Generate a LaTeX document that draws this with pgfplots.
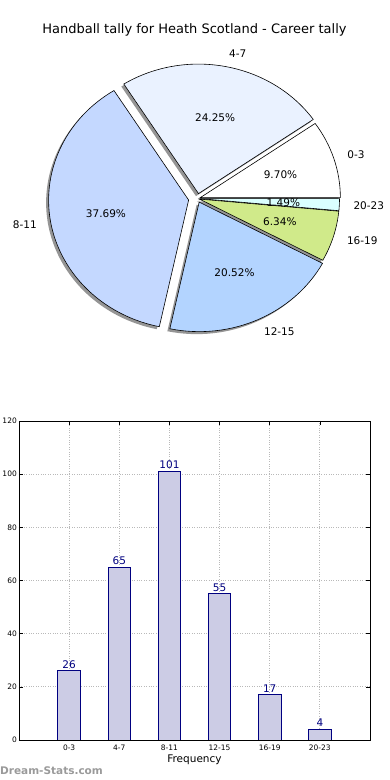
\documentclass[border=0pt]{standalone}
\usepackage{fontspec}
\setmainfont{DejaVu Sans}
\usepackage{pgfplots}
\usepackage{pgfplotstable}
\pgfplotsset{compat=1.18}
\definecolor{c0}{HTML}{FFFFFF}
\definecolor{c1}{HTML}{EAF2FF}
\definecolor{c2}{HTML}{C4D8FF}
\definecolor{c3}{HTML}{B3D4FF}
\definecolor{c4}{HTML}{D0EA8A}
\definecolor{c5}{HTML}{DAFFFF}
\definecolor{shadowc}{HTML}{959595}
\definecolor{barfill}{HTML}{CCCCE5}
\definecolor{navy}{HTML}{000080}
\definecolor{wmark}{HTML}{9A9A9A}

\pgfplotstableread{
label value explode color
0-3 26 3 c0
4-7 65 5 c1
8-11 101 9 c2
12-15 55 4 c3
16-19 17 2 c4
20-23 4 2 c5
}\pietable

\pgfplotstableread{
x label count
0 0-3 26
1 4-7 65
2 8-11 101
3 12-15 55
4 16-19 17
5 20-23 4
}\bartable

% pie geometry (pixel units, y up = negative pixel row)
\def\pcx{197.5}
\def\pcy{-198.5}
\def\prx{140}
\def\pry{129.5}

\newcommand\pieloop[1]{%
  \gdef\piecum{0}%
  \foreach \i in {0,...,5}{%
    \pgfplotstablegetelem{\i}{value}\of\pietable \let\pv\pgfplotsretval
    \pgfplotstablegetelem{\i}{explode}\of\pietable \let\pex\pgfplotsretval
    \pgfplotstablegetelem{\i}{color}\of\pietable \let\pcol\pgfplotsretval
    \pgfplotstablegetelem{\i}{label}\of\pietable \let\plab\pgfplotsretval
    \pgfmathsetmacro\sa{\piecum/\pietot*360}%
    \pgfmathsetmacro\ea{(\piecum+\pv)/\pietot*360}%
    \pgfmathsetmacro\ma{(\sa+\ea)/2}%
    \pgfmathsetmacro\ax{\pcx+\pex*cos(\ma)}%
    \pgfmathsetmacro\ay{\pcy+\pex*sin(\ma)}%
    #1%
    \pgfmathsetmacro\ptmp{\piecum+\pv}\xdef\piecum{\ptmp}%
  }%
}

\begin{document}
\begin{tikzpicture}
\useasboundingbox (0,0) rectangle (390pt,780pt);
% ---------------- pie ----------------
\begin{axis}[
  x=1pt, y=1pt,
  xmin=0, xmax=390, ymin=-780, ymax=0,
  hide axis, clip=false,
  at={(0pt,0pt)}, anchor=south west,
]
\pgfplotsextra{%
  \gdef\pietot{0}%
  \foreach \i in {0,...,5}{%
    \pgfplotstablegetelem{\i}{value}\of\pietable
    \pgfmathsetmacro\ptmp{\pietot+\pgfplotsretval}\xdef\pietot{\ptmp}%
  }%
  % shadows
  \pieloop{%
    \pgfmathsetmacro\sx{\ax-2.5}\pgfmathsetmacro\sy{\ay-2.5}%
    \fill[shadowc] (axis cs:\sx,\sy) -- ++(\sa:\prx pt and \pry pt)
      arc[start angle=\sa, end angle=\ea, x radius=\prx pt, y radius=\pry pt] -- cycle;
  }%
  % wedges
  \pieloop{%
    \filldraw[fill=\pcol, draw=black, line width=0.6pt, line join=miter]
      (axis cs:\ax,\ay) -- ++(\sa:\prx pt and \pry pt)
      arc[start angle=\sa, end angle=\ea, x radius=\prx pt, y radius=\pry pt] -- cycle;
  }%
  % labels
  \pieloop{%
    \pgfmathsetmacro\lx{\ax+1.1*\prx*cos(\ma)}%
    \pgfmathsetmacro\ly{\ay+1.1*\pry*sin(\ma)}%
    \pgfmathsetmacro\qx{\ax+0.6*\prx*cos(\ma)}%
    \pgfmathsetmacro\qy{\ay+0.6*\pry*sin(\ma)}%
    \pgfmathsetmacro\pct{\pv/\pietot*100}%
    \pgfmathtruncatemacro\isright{cos(\ma)>0}%
    \ifnum\isright=1 \def\anc{west}\else\def\anc{east}\fi
    \node[anchor=\anc, inner sep=0pt, font=\fontsize{10.5}{12}\selectfont] at (axis cs:\lx,\ly) {\plab};
    \node[anchor=center, inner sep=0pt, font=\fontsize{10.5}{12}\selectfont] at (axis cs:\qx,\qy)
      {\pgfmathprintnumber[assume math mode=true,fixed,fixed zerofill,precision=2]{\pct}\%};
  }%
  \node[font=\fontsize{13}{15}\selectfont, inner sep=0pt] at (axis cs:194.5,-30) {Handball tally for Heath Scotland - Career tally};
}
\end{axis}
% ---------------- bars ----------------
\begin{axis}[
  at={(19pt,40pt)}, anchor=south west,
  scale only axis, width=351pt, height=319pt,
  xmin=-1, xmax=6, ymin=0, ymax=120,
  xtick=data, xticklabels from table={\bartable}{label},
  ytick={0,20,...,120},
  /pgf/number format/assume math mode=true,
  ticklabel style={font=\fontsize{7.5}{9}\selectfont},
  xticklabel style={inner sep=0pt, yshift=-4.5pt},
  yticklabel style={inner sep=0pt, xshift=-2pt},
  tick align=inside, major tick length=4pt,
  tick style={black, line width=0.6pt},
  grid=major, grid style={gray!55, dotted, line width=0.8pt},
  axis line style={black, line width=0.9pt},
  xlabel={Frequency},
  xlabel style={at={(axis description cs:0.5,0)}, anchor=center, yshift=-20pt, inner sep=0pt, font=\fontsize{10.5}{12}\selectfont},
]
\addplot[ybar, bar width=0.45, bar shift=0pt, fill=barfill, draw=navy, line width=0.8pt,
  nodes near coords,
  nodes near coords style={font=\fontsize{10.5}{12}\selectfont, text=navy, anchor=south, inner sep=2pt}]
  table[x=x, y=count]{\bartable};
\end{axis}
\node[anchor=west, inner sep=0pt, text=wmark, font=\bfseries\fontsize{10.5}{12}\selectfont] at (0pt,9pt) {Dream-Stats.com};
\end{tikzpicture}
\end{document}
